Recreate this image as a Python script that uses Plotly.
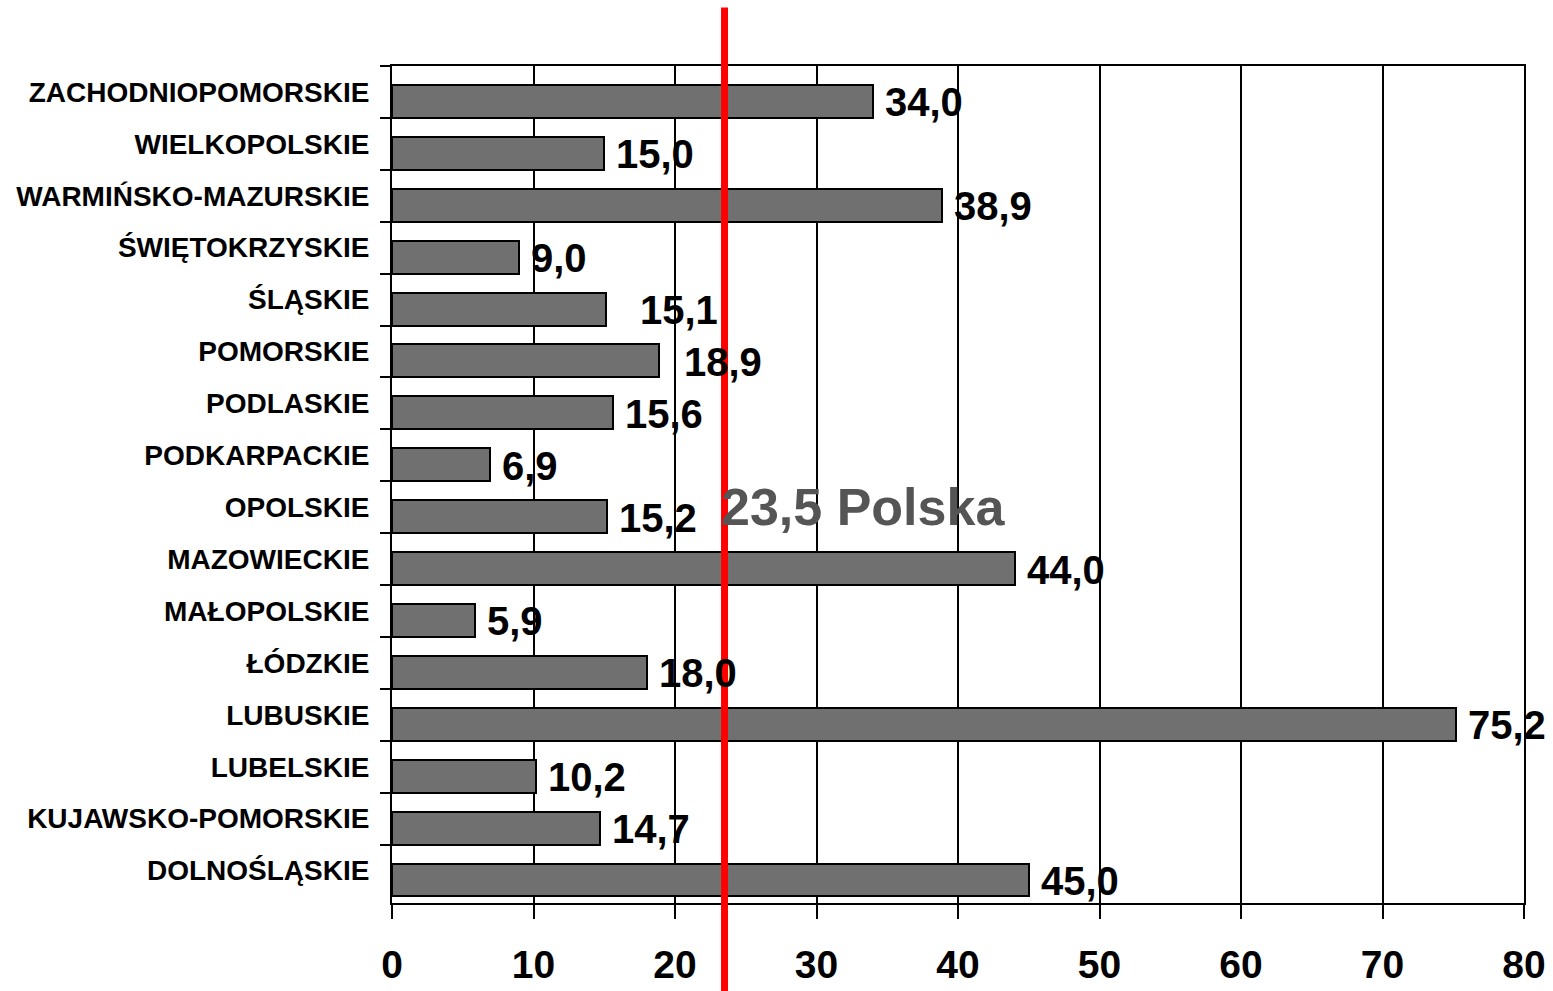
import plotly.graph_objects as go

regions = [
    "ZACHODNIOPOMORSKIE", "WIELKOPOLSKIE", "WARMIŃSKO-MAZURSKIE", "ŚWIĘTOKRZYSKIE",
    "ŚLĄSKIE", "POMORSKIE", "PODLASKIE", "PODKARPACKIE", "OPOLSKIE", "MAZOWIECKIE",
    "MAŁOPOLSKIE", "ŁÓDZKIE", "LUBUSKIE", "LUBELSKIE", "KUJAWSKO-POMORSKIE", "DOLNOŚLĄSKIE",
]
values = [34.0, 15.0, 38.9, 9.0, 15.1, 18.9, 15.6, 6.9, 15.2, 44.0, 5.9, 18.0, 75.2, 10.2, 14.7, 45.0]
polska_avg = 23.5
polska_label = "23,5 Polska"
x_ticks = [0, 10, 20, 30, 40, 50, 60, 70, 80]

# style constants
FONT = "Liberation Sans, Arial, sans-serif"
BAR_OFFSET = -0.135
BAR_WIDTH = 0.635
label_extra_shift = {"ŚLĄSKIE": 22, "POMORSKIE": 13}

fig = go.Figure()
fig.add_trace(go.Bar(
    y=regions, x=values, orientation="h",
    offset=BAR_OFFSET, width=BAR_WIDTH,
    marker=dict(color="#707070", line=dict(color="black", width=2)),
    hoverinfo="x+y",
))

for i, (r, v) in enumerate(zip(regions, values)):
    fig.add_annotation(
        x=v, y=i + BAR_OFFSET + BAR_WIDTH / 2, xref="x", yref="y",
        text=f"{v:.1f}".replace(".", ","), showarrow=False,
        xanchor="left", yanchor="middle",
        xshift=10 + label_extra_shift.get(r, 0), yshift=-1,
        font=dict(family=FONT, size=40, color="black", weight="bold"),
    )

fig.add_shape(
    type="line", xref="x", yref="paper",
    x0=polska_avg, x1=polska_avg, y0=-0.11, y1=1.07,
    line=dict(color="#ff0000", width=7), layer="above",
)
fig.add_annotation(
    x=polska_avg, y="OPOLSKIE", xref="x", yref="y",
    text=polska_label, showarrow=False, xanchor="left", yanchor="middle",
    xshift=-6, yshift=0,
    font=dict(family=FONT, size=52, color="#555555", weight="bold"),
)

fig.update_layout(
    width=1553, height=991,
    margin=dict(l=392, r=29, t=66, b=88, autoexpand=False),
    paper_bgcolor="white", plot_bgcolor="white",
    showlegend=False, bargap=0,
    xaxis=dict(
        range=[0, 80], tickvals=x_ticks, ticktext=[str(t) for t in x_ticks],
        showgrid=True, gridcolor="black", gridwidth=2,
        showline=True, linecolor="black", linewidth=2, mirror=True,
        ticks="outside", ticklen=14, tickwidth=2, tickcolor="black",
        tickfont=dict(family=FONT, size=39, color="black", weight="bold"),
        ticklabelstandoff=12, zeroline=False, automargin=False,
    ),
    yaxis=dict(
        type="category", categoryorder="array", categoryarray=regions,
        autorange="reversed",
        showline=True, linecolor="black", linewidth=2, mirror=True,
        ticks="outside", ticklen=10, tickwidth=2, tickcolor="black",
        tickson="boundaries", showgrid=False,
        tickfont=dict(family=FONT, size=28, color="black", weight="bold"),
        ticklabelstandoff=15, automargin=False,
    ),
)

fig.write_html(
    "out.html",
    config={"displayModeBar": False},
    post_script="document.body.style.margin='0';document.body.style.overflow='hidden';",
)
